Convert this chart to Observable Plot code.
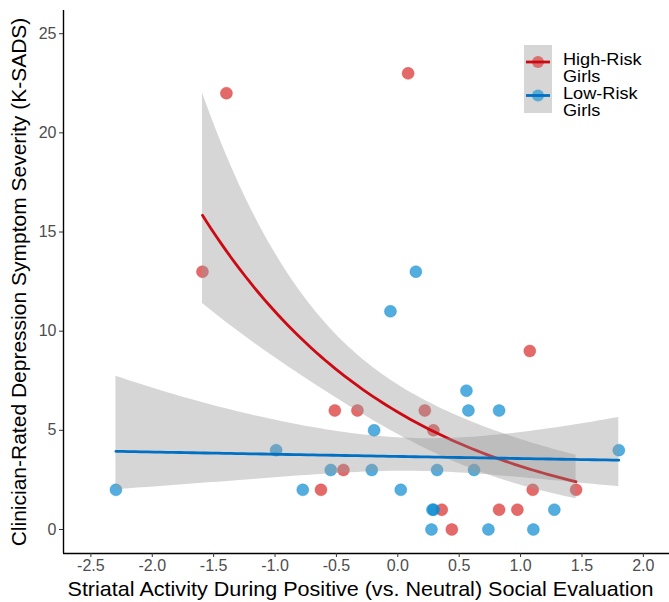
<!DOCTYPE html>
<html><head><meta charset="utf-8">
<script src="https://cdn.jsdelivr.net/npm/d3@7"></script>
<script src="https://cdn.jsdelivr.net/npm/@observablehq/plot@0.6"></script>
<style>
body{margin:0;background:#fff;font-family:"Liberation Sans",Arial,sans-serif;}
#wrap{position:relative;width:669px;height:602px;}
#legend{position:absolute;left:520px;top:40px;}
</style></head><body><div id="wrap"></div>
<script>
// High-risk girls (red)
const hrX = [-1.396, 0.084, -1.591, 1.075, -0.513, -0.329, 0.220, 0.290, -0.443, -0.626, 1.099, 1.452, 0.358, 0.825, 0.974, 0.440];
const hrY = [22, 23, 13, 9, 6, 6, 6, 5, 3, 2, 2, 2, 1, 1, 1, 0];
// Low-risk girls (blue)
const lrX = [-2.296, -0.991, -0.774, -0.546, -0.212, -0.193, -0.060, 0.024, 0.147, 0.274, 0.282, 0.292, 0.320, 0.559, 0.575, 0.621, 0.738, 0.825, 1.104, 1.275, 1.800];
const lrY = [2, 4, 2, 3, 3, 5, 11, 2, 13, 0, 1, 1, 3, 7, 6, 3, 0, 6, 0, 1, 4];
const groups = ["High-Risk Girls", "Low-Risk Girls"];
const xTicks = [-2.5, -2.0, -1.5, -1.0, -0.5, 0.0, 0.5, 1.0, 1.5, 2.0];
const yTicks = [0, 5, 10, 15, 20, 25];
const xDomain = [-2.723, 2.213];
const yDomain = [-1.21, 26.17];
const colors = {line: ["#cc0a14", "#0070c4"], point: ["#d92b2b", "#0a8ad0"]};

function poissonFit(xs, ys) {
  let a = Math.log(d3.mean(ys)), b = 0, cov;
  for (let it = 0; it < 60; it++) {
    let s00 = 0, s01 = 0, s11 = 0, t0 = 0, t1 = 0;
    xs.forEach((x, i) => {
      const eta = a + b * x, mu = Math.exp(eta), z = eta + (ys[i] - mu) / mu, w = mu;
      s00 += w; s01 += w * x; s11 += w * x * x; t0 += w * z; t1 += w * x * z;
    });
    const det = s00 * s11 - s01 * s01;
    a = (s11 * t0 - s01 * t1) / det;
    b = (s00 * t1 - s01 * t0) / det;
    cov = [s11 / det, -s01 / det, s00 / det];
  }
  return {a, b, cov};
}
function smooth(xs, ys, g) {
  const f = poissonFit(xs, ys);
  const [x0, x1] = d3.extent(xs);
  const q = 1.959964;
  return d3.range(80).map(i => {
    const x = x0 + (x1 - x0) * i / 79;
    const eta = f.a + f.b * x;
    const se = Math.sqrt(f.cov[0] + 2 * x * f.cov[1] + x * x * f.cov[2]);
    return {x, y: Math.exp(eta), lo: Math.exp(eta - q * se), hi: Math.exp(eta + q * se), g};
  });
}
const pts = [
  ...hrX.map((x, i) => ({x, y: hrY[i], g: 0})),
  ...lrX.map((x, i) => ({x, y: lrY[i], g: 1}))
];
const sHR = smooth(hrX, hrY, 0);
const sLR = smooth(lrX, lrY, 1);

const plot = Plot.plot({
  width: 669, height: 602,
  marginLeft: 63, marginRight: 0, marginTop: 10, marginBottom: 49,
  style: {fontFamily: "Liberation Sans, Arial, sans-serif", background: "white"},
  x: {domain: xDomain},
  y: {domain: yDomain},
  marks: [
    Plot.dot(pts, {x: "x", y: "y", r: 6, fill: d => colors.point[d.g], fillOpacity: 0.7, stroke: d => colors.point[d.g], strokeOpacity: 0.35, strokeWidth: 1}),
    Plot.areaY(sHR, {x: "x", y1: "lo", y2: "hi", fill: "#999999", fillOpacity: 0.4}),
    Plot.line(sHR, {x: "x", y: "y", stroke: colors.line[0], strokeWidth: 2.8}),
    Plot.areaY(sLR, {x: "x", y1: "lo", y2: "hi", fill: "#999999", fillOpacity: 0.4}),
    Plot.line(sLR, {x: "x", y: "y", stroke: colors.line[1], strokeWidth: 2.8}),
    Plot.ruleY([yDomain[0]], {stroke: "#000", strokeWidth: 1.4}),
    Plot.ruleX([xDomain[0]], {stroke: "#000", strokeWidth: 1.4}),
    Plot.axisX({ticks: xTicks, tickFormat: d => d.toFixed(1), tickSize: 4, tickPadding: 2, stroke: "#333", fill: "#4d4d4d", fontSize: 16,
      label: "Striatal Activity During Positive (vs. Neutral) Social Evaluation", labelAnchor: "center", labelArrow: "none", labelOffset: 42}),
    Plot.axisY({ticks: yTicks, tickFormat: d => String(d), tickSize: 4, tickPadding: 3, stroke: "#333", fill: "#4d4d4d", fontSize: 16,
      label: "Clinician-Rated Depression Symptom Severity (K-SADS)", labelAnchor: "center", labelArrow: "none", labelOffset: 52})
  ]
});
plot.querySelectorAll("[aria-label='x-axis tick label'], [aria-label='y-axis tick label']").forEach(n => {
  n.setAttribute("font-size", "16"); n.style.fontSize = "16px";
});
plot.querySelectorAll("[aria-label='x-axis label'], [aria-label='y-axis label']").forEach(n => {
  n.setAttribute("font-size", "21"); n.setAttribute("fill", "#000"); n.style.fontSize = "21px";
});
const xl = plot.querySelector("[aria-label='x-axis label'] text");
if (xl) { xl.setAttribute("textLength", 586); xl.setAttribute("lengthAdjust", "spacingAndGlyphs"); xl.setAttribute("dx", -6); }
const wrap = document.getElementById("wrap");
wrap.appendChild(plot);

// Legend
const leg = document.createElement("div");
leg.id = "legend";
const ns = "http://www.w3.org/2000/svg";
const svg = document.createElementNS(ns, "svg");
svg.setAttribute("width", 149); svg.setAttribute("height", 82);
svg.setAttribute("font-family", "Liberation Sans, Arial, sans-serif");
const bg = document.createElementNS(ns, "rect");
bg.setAttribute("x", 4); bg.setAttribute("y", 5); bg.setAttribute("width", 28); bg.setAttribute("height", 68);
bg.setAttribute("fill", "#999999"); bg.setAttribute("fill-opacity", 0.4);
svg.appendChild(bg);
groups.forEach((name, i) => {
  const cy = 22 + i * 33.5;
  const c = document.createElementNS(ns, "circle");
  c.setAttribute("cx", 18); c.setAttribute("cy", cy); c.setAttribute("r", 6);
  c.setAttribute("fill", colors.point[i]); c.setAttribute("fill-opacity", 0.6);
  svg.appendChild(c);
  const l = document.createElementNS(ns, "line");
  l.setAttribute("x1", 6); l.setAttribute("x2", 30); l.setAttribute("y1", cy); l.setAttribute("y2", cy);
  l.setAttribute("stroke", colors.line[i]); l.setAttribute("stroke-width", 2.8);
  svg.appendChild(l);
  name.split(" ").forEach((p, j) => {
    const t = document.createElementNS(ns, "text");
    t.setAttribute("x", 0); t.setAttribute("y", 0);
    t.setAttribute("transform", `translate(43,${24.5 + i * 34.6 + j * 17.3}) scale(1.1,1)`);
    t.setAttribute("font-size", 16.5); t.setAttribute("fill", "#000");
    t.textContent = p;
    svg.appendChild(t);
  });
});
leg.appendChild(svg);
wrap.appendChild(leg);
</script></body></html>
